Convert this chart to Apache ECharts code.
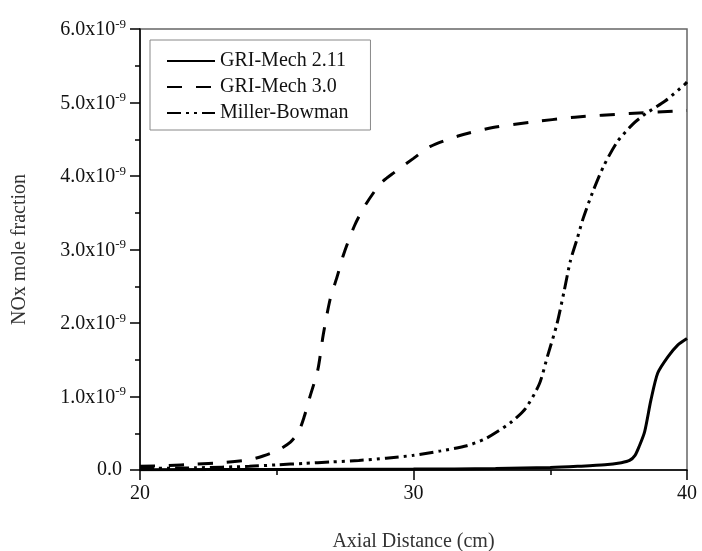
<!DOCTYPE html>
<html>
<head>
<meta charset="utf-8">
<script src="https://cdn.jsdelivr.net/npm/echarts@6/dist/echarts.min.js"></script>
<style>
  html, body { margin: 0; padding: 0; background: #fff; }
  #chart { width: 702px; height: 551px; }
</style>
</head>
<body>
<div id="chart"></div>
<script>
// NOx mole fraction (in units of 1e-9) along the axial distance (cm)
const seriesNames = ['GRI-Mech 2.11', 'GRI-Mech 3.0', 'Miller-Bowman'];

const gri211X = [20, 25, 30, 33, 35, 36, 37, 37.6, 37.9, 38.1, 38.25, 38.45, 38.68, 38.93, 39.3, 39.66, 40];
const gri211Y = [0.005, 0.008, 0.012, 0.02, 0.035, 0.05, 0.07, 0.1, 0.13, 0.2, 0.32, 0.52, 0.95, 1.32, 1.54, 1.70, 1.79];

const gri30X = [20, 21, 22, 23, 24, 24.5, 25, 25.5, 25.8, 26.0, 26.2, 26.5, 26.7, 26.95, 27.2, 27.45, 27.85, 28.25, 28.8, 29.3, 30.0, 30.6, 31.6, 32.9, 34.25, 35.9, 37.9, 40];
const gri30Y = [0.05, 0.06, 0.08, 0.1, 0.14, 0.19, 0.26, 0.38, 0.52, 0.72, 0.98, 1.36, 1.84, 2.32, 2.62, 2.94, 3.33, 3.61, 3.9, 4.05, 4.24, 4.4, 4.54, 4.66, 4.73, 4.8, 4.85, 4.89];

const millerX = [20, 22, 24, 25, 26, 27, 28, 29, 30, 31, 31.95, 32.6, 33.1, 33.6, 34.1, 34.6, 34.9, 35.24, 35.5, 35.74, 35.98, 36.2, 36.55, 36.96, 37.46, 38.03, 38.5, 39.2, 39.9, 40];
const millerY = [0.02, 0.03, 0.05, 0.07, 0.09, 0.11, 0.13, 0.16, 0.2, 0.26, 0.33, 0.42, 0.53, 0.66, 0.84, 1.17, 1.55, 1.98, 2.42, 2.85, 3.14, 3.42, 3.78, 4.14, 4.47, 4.71, 4.85, 5.02, 5.24, 5.28];

const xTicks = { min: 20, max: 40, interval: 10 };
const yTicks = { min: 0, max: 6, interval: 1 };
const yExponent = '-9';

const serif = '"Liberation Serif", "Times New Roman", serif';

function pairs(xs, ys) {
  return xs.map((x, i) => [x, ys[i]]);
}

function makeLine(name, xs, ys, dash) {
  return {
    name: name,
    type: 'line',
    data: pairs(xs, ys),
    symbol: 'none',
    smooth: 0.25,
    lineStyle: { color: '#000', width: 3, type: dash, cap: 'butt' },
    // transparent item colour keeps the legend marker to a plain line sample
    itemStyle: { color: 'rgba(0,0,0,0)', borderWidth: 0 },
    silent: true
  };
}

const chart = echarts.init(document.getElementById('chart'), null, { renderer: 'canvas' });

chart.setOption({
  animation: false,
  backgroundColor: '#fff',
  grid: {
    left: 140, right: 15, top: 29, bottom: 81,
    outerBoundsMode: 'none',
    containLabel: false,
    show: true, borderColor: '#666', borderWidth: 1.5
  },
  legend: {
    orient: 'vertical',
    left: 150, top: 40,
    padding: [11, 22, 7, 16],
    itemGap: 6,
    itemWidth: 48,
    itemHeight: 14,
    borderColor: '#888',
    borderWidth: 1,
    textStyle: { fontFamily: serif, fontSize: 20, color: '#111' },
    data: seriesNames
  },
  xAxis: {
    type: 'value',
    min: xTicks.min, max: xTicks.max, interval: xTicks.interval,
    name: 'Axial Distance (cm)',
    nameLocation: 'middle',
    nameGap: 62,
    nameTextStyle: { fontFamily: serif, fontSize: 20, color: '#333' },
    axisLine: { lineStyle: { color: '#000', width: 1.5 } },
    axisTick: { show: true, inside: false, length: 10, lineStyle: { color: '#000', width: 1.5 } },
    minorTick: { show: true, splitNumber: 2, length: 5, lineStyle: { color: '#000', width: 1.5 } },
    splitLine: { show: false },
    axisLabel: { fontFamily: serif, fontSize: 20, color: '#111', margin: 14 }
  },
  yAxis: {
    type: 'value',
    min: yTicks.min, max: yTicks.max, interval: yTicks.interval,
    name: 'NOx mole fraction',
    nameLocation: 'middle',
    nameGap: 110,
    nameTextStyle: { fontFamily: serif, fontSize: 20, color: '#333' },
    axisLine: { lineStyle: { color: '#000', width: 1.5 } },
    axisTick: { show: true, inside: false, length: 10, lineStyle: { color: '#000', width: 1.5 } },
    minorTick: { show: true, splitNumber: 2, length: 5, lineStyle: { color: '#000', width: 1.5 } },
    splitLine: { show: false },
    axisLabel: {
      margin: 14,
      formatter: function (v) {
        if (v === 0) return '{z|0.0}';
        return '{m|' + v.toFixed(1) + 'x10}{s|' + yExponent + '}';
      },
      rich: {
        m: { fontFamily: serif, fontSize: 20, color: '#111', lineHeight: 22, verticalAlign: 'bottom' },
        s: { fontFamily: serif, fontSize: 13, color: '#111', lineHeight: 13, verticalAlign: 'top', padding: [0, 0, 12, 0] },
        z: { fontFamily: serif, fontSize: 20, color: '#111', lineHeight: 22, padding: [0, 4, 0, 0] }
      }
    }
  },
  series: [
    makeLine(seriesNames[0], gri211X, gri211Y, 'solid'),
    makeLine(seriesNames[1], gri30X, gri30Y, [15, 14]),
    makeLine(seriesNames[2], millerX, millerY, [14, 5, 3, 5, 3, 5])
  ]
});
</script>
</body>
</html>
